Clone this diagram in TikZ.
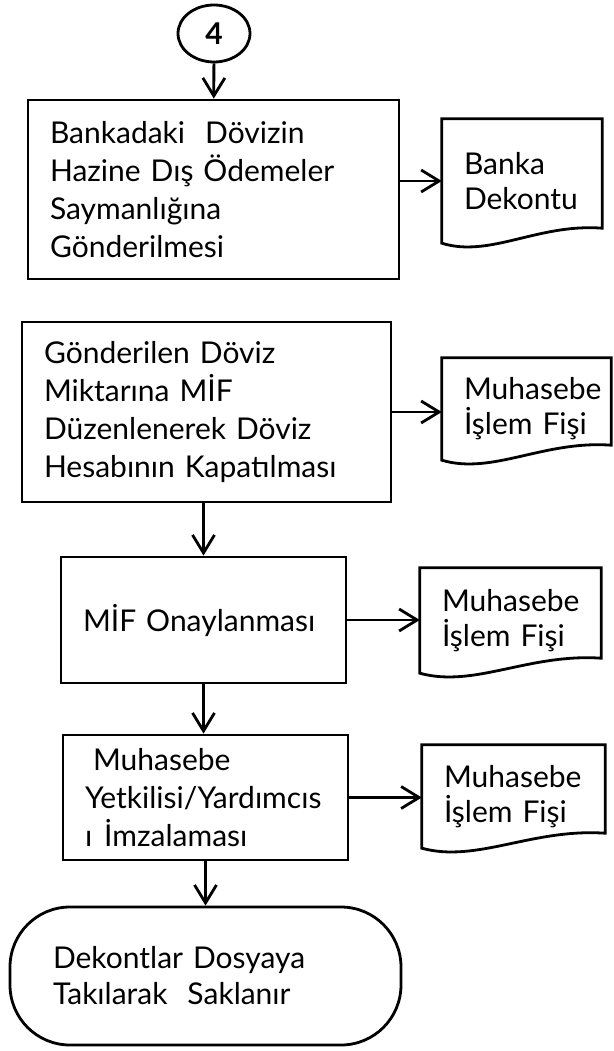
\documentclass[tikz,border=0pt]{standalone}
\usepackage{fontspec}
\setmainfont{Lato}
\usetikzlibrary{arrows.meta,shapes.geometric,calc}

% outline of a document node: straight top and sides, wavy bottom
\newcommand\docedge[1]{%
  \draw[line] (#1.north east) -- (#1.north west) -- (#1.south west)
    .. controls ($(#1.south west)!0.3!(#1.south east)+(0pt,-15pt)$)
    and ($(#1.south west)!0.6!(#1.south east)+(0pt,20pt)$)
    .. ($(#1.south east)+(0pt,15pt)$) -- cycle;}

\begin{document}
\begin{tikzpicture}[x=1pt, y=-1pt,
    font=\fontsize{30}{38}\selectfont,
    line/.style={line width=2.8pt},
    arr/.style={line, -{Straight Barb[length=18pt,width=22pt,line width=2.8pt]}},
    box/.style={draw, line, rectangle, align=left, inner xsep=22pt, inner ysep=0pt},
    doc/.style={rectangle, align=left, inner xsep=22pt, inner ysep=0pt, font=\fontsize{30}{35}\selectfont}]
    \useasboundingbox (0,0) rectangle (613,1051);

    \node[ellipse, draw, line, minimum width=72pt, minimum height=57pt, inner sep=0pt] (start) at (214,33.5) {\bfseries 4};

    \node[box, minimum width=371pt, minimum height=179pt, text width=327pt] (bank) at (213.5,189.5)
        {Bankadaki\ \ Dövizin\\Hazine Dış Ödemeler\\Saymanlığına\\Gönderilmesi};
    \node[doc, minimum width=160pt, minimum height=124pt, text width=116pt] (dekont) at (522,181)
        {Banka\\Dekontu};

    \node[box, minimum width=369pt, minimum height=180pt, text width=325pt] (close) at (206.5,412)
        {Gönderilen Döviz\\Miktarına MİF\\Düzenlenerek Döviz\\Hesabının Kapatılması};
    \node[doc, minimum width=169pt, minimum height=102pt, text width=125pt] (fis1) at (526.5,409)
        {Muhasebe\\İşlem Fişi};

    \node[box, minimum width=285pt, minimum height=126pt, text width=241pt] (approve) at (203.5,620)
        {MİF Onaylanması};
    \node[doc, minimum width=181pt, minimum height=105pt, text width=137pt] (fis2) at (510.5,620.5)
        {Muhasebe\\İşlem Fişi};

    \node[box, minimum width=285pt, minimum height=125pt, text width=241pt] (sign) at (205.5,797.5)
        {\hspace{8pt}Muhasebe\\Yetkilisi/Yardımcıs\\ı\hspace{12pt}İmzalaması};
    \node[doc, minimum width=183pt, minimum height=103pt, text width=139pt] (fis3) at (513.5,796.5)
        {Muhasebe\\İşlem Fişi};

    \node[box, rounded corners=60pt, inner xsep=43pt, minimum width=391pt, minimum height=138pt, text width=305pt,
          font=\fontsize{30}{36}\selectfont] (store) at (205.5,976)
        {Dekontlar Dosyaya\\Takılarak\ \ Saklanır};

    \docedge{dekont}
    \docedge{fis1}
    \docedge{fis2}
    \docedge{fis3}

    \draw[arr] (start) -- (bank);
    \draw[arr] (bank.east |- dekont.west) -- (dekont.west);
    \draw[arr] (close) -- (close -| fis1.west);
    \draw[arr] (close.south -| approve) -- (approve);
    \draw[arr] (approve) -- (approve -| fis2.west);
    \draw[arr] (approve) -- (approve.south |- sign.north);
    \draw[arr] (sign) -- (sign -| fis3.west);
    \draw[arr] (sign) -- (store);
\end{tikzpicture}
\end{document}
